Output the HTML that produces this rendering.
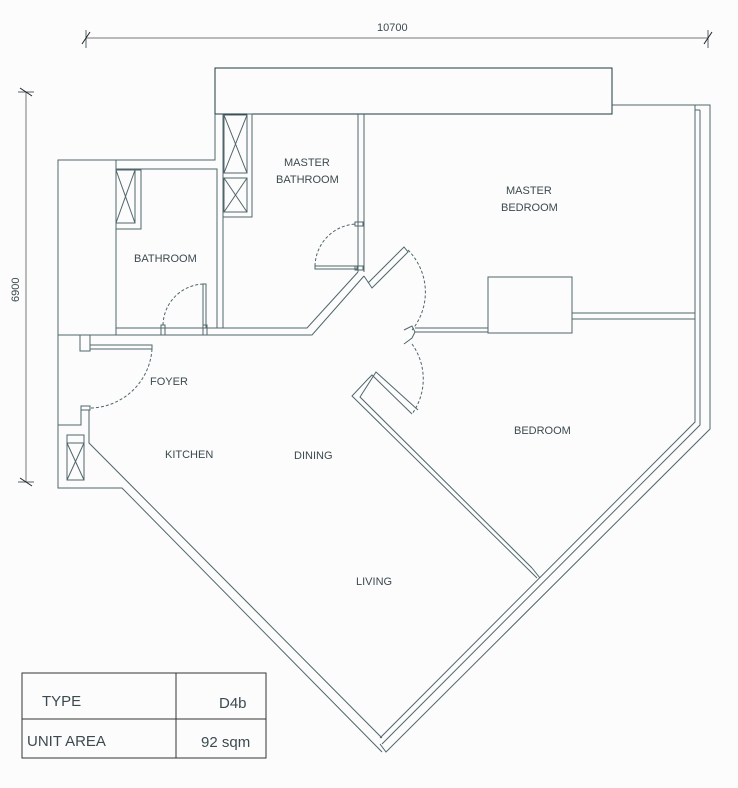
<!DOCTYPE html>
<html><head><meta charset="utf-8"><style>
body{margin:0;background:#fcfcfc;}
svg{display:block}
text{font-family:"Liberation Sans",sans-serif;fill:#3c4a50;}
</style></head><body>
<svg width="738" height="788" viewBox="0 0 738 788" xmlns="http://www.w3.org/2000/svg">
<g fill="none" stroke="#50666c" stroke-width="1">
<line x1="86" y1="38" x2="708" y2="38" stroke="#777"/>
<line x1="86" y1="30" x2="86" y2="48"/><line x1="708" y1="30" x2="708" y2="48"/>
<line x1="82" y1="44" x2="90" y2="32" stroke="#222"/><line x1="704" y1="44" x2="712" y2="32" stroke="#222"/>
<line x1="26" y1="92" x2="26" y2="482" stroke="#777"/>
<line x1="18" y1="92" x2="34" y2="92"/><line x1="18" y1="482" x2="34" y2="482"/>
<line x1="20" y1="88" x2="32" y2="96" stroke="#222"/><line x1="20" y1="478" x2="32" y2="486" stroke="#222"/>
<rect x="215" y="68" width="397" height="46" stroke="#1e3a40"/>
<polyline points="215,114 215,160 58,160 58,488 122,488 382,752"/>
<polyline points="58,425 81,425 81,410"/>
<polyline points="89,410 89,443 382,738"/>
<rect x="67" y="435" width="17" height="45"/>
<line x1="67" y1="443" x2="84" y2="443"/>
<line x1="67" y1="443" x2="84" y2="480"/><line x1="84" y1="443" x2="67" y2="480"/>
<line x1="116" y1="160" x2="116" y2="335"/>
<polyline points="116,169 217,169 217,328 116,328"/>
<rect x="116" y="170" width="19" height="53"/>
<line x1="116" y1="170" x2="135" y2="223"/><line x1="135" y1="170" x2="116" y2="223"/>
<polyline points="135,170 141,170 141,229 116,229"/>
<polyline points="58,335 312,335 364,276"/>
<polyline points="223,114 223,328 307,328 358,272"/>
<line x1="223" y1="328" x2="217" y2="328"/>
<rect x="224" y="115" width="23" height="58"/>
<line x1="224" y1="115" x2="247" y2="173"/><line x1="247" y1="115" x2="224" y2="173"/>
<rect x="224" y="178" width="23" height="34"/>
<line x1="224" y1="178" x2="247" y2="212"/><line x1="247" y1="178" x2="224" y2="212"/>
<polyline points="247,114 252,114 252,217 223,217"/>
<line x1="358" y1="114" x2="358" y2="272"/><line x1="364" y1="114" x2="364" y2="272"/>
<rect x="355" y="222" width="8" height="4"/><rect x="355" y="266" width="8" height="4"/>
<rect x="315" y="266" width="42" height="3"/>
<path d="M315,266 A43,43 0 0 1 356,224" stroke-dasharray="3,2"/>
<rect x="203" y="284" width="3" height="44"/>
<rect x="161" y="325" width="4" height="10"/><rect x="203" y="325" width="4" height="10"/>
<path d="M163,325 A42,42 0 0 1 204,284" stroke-dasharray="3,2"/>
<rect x="80" y="335" width="10" height="16"/><rect x="81" y="406" width="9" height="4"/>
<rect x="90" y="345" width="62" height="4"/>
<path d="M152,349 A63,63 0 0 1 90,408" stroke-dasharray="3,2"/>
<polyline points="364,276 372,288 408,252 404,247 368,283"/>
<path d="M408,250 A60,60 0 0 1 412,330" stroke-dasharray="3,2"/>
<polyline points="404,330 412,326 415,332 488,332"/>
<polyline points="404,344 412,338 415,332"/>
<line x1="415" y1="328" x2="488" y2="328"/>
<rect x="488" y="277" width="84" height="56"/>
<line x1="572" y1="313" x2="695" y2="313"/><line x1="572" y1="319" x2="695" y2="319"/>
<path d="M412,344 A60,60 0 0 1 412,414" stroke-dasharray="3,2"/>
<polyline points="412,414 372,375 368,379 352,396 537,578"/>
<polyline points="418,410 376,372 360,397 532,568"/>
<line x1="532" y1="568" x2="540" y2="578"/>
<polyline points="612,105 695,105"/>
<polyline points="695,105 695,422 380,738"/>
<polyline points="700,110 700,425 382,744"/>
<polyline points="695,105 710,105 710,429 386,752 380,744"/>
<line x1="695" y1="110" x2="700" y2="110"/>
<rect x="22" y="673" width="244" height="85" stroke="#333"/>
<line x1="176" y1="673" x2="176" y2="758" stroke="#333"/>
<line x1="22" y1="719" x2="266" y2="719" stroke="#333"/>
</g>
<g font-size="11" fill="#3c4a50">
<text x="377" y="31">10700</text>
<text transform="translate(19,302) rotate(-90)">6900</text>
<text x="284" y="166">MASTER</text>
<text x="276" y="183">BATHROOM</text>
<text x="506" y="194">MASTER</text>
<text x="501" y="211">BEDROOM</text>
<text x="134" y="262">BATHROOM</text>
<text x="150" y="385">FOYER</text>
<text x="165" y="458">KITCHEN</text>
<text x="294" y="459">DINING</text>
<text x="514" y="434">BEDROOM</text>
<text x="356" y="585">LIVING</text>
</g>
<g font-size="15" fill="#111">
<text x="42" y="706">TYPE</text>
<text x="219" y="708">D4b</text>
<text x="27" y="746">UNIT AREA</text>
<text x="201" y="747">92 sqm</text>
</g>
</svg>
</body></html>
